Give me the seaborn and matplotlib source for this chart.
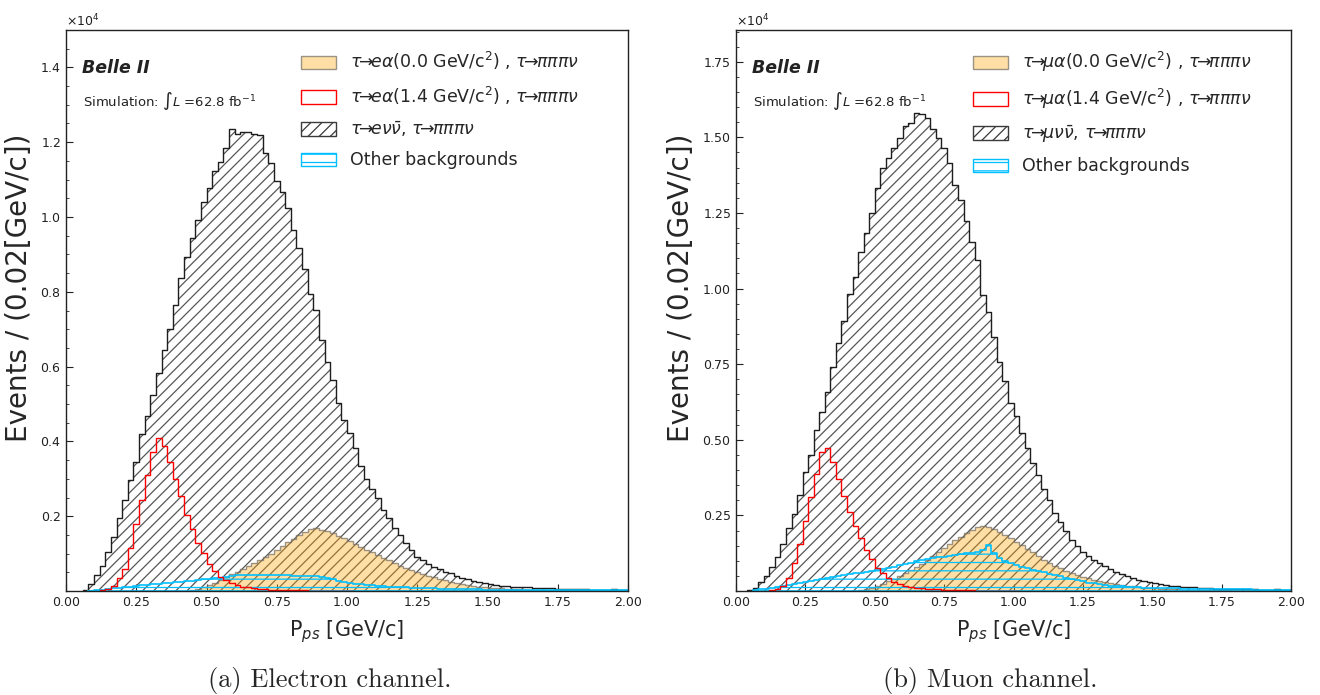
import numpy as np
import matplotlib
matplotlib.use("Agg")
import matplotlib.pyplot as plt
import seaborn as sns
from matplotlib.patches import Patch
from matplotlib.ticker import ScalarFormatter, MultipleLocator, FixedLocator, FormatStrFormatter

# ---------------- data (events per 0.02 GeV/c bin, 0 -> 2 GeV/c) ----------------
BIN_LO, BIN_HI, N_BINS = 0.0, 2.0, 100

# Electron channel
E_SIG00 = [0]*22 + [30, 60, 100, 150, 220, 300, 380, 460, 520, 580, 680, 760, 840, 920, 1000, 1100,
          1190, 1300, 1400, 1500, 1580, 1660, 1690, 1640, 1600, 1540, 1480, 1410, 1340, 1260, 1180,
          1100, 1030, 960, 890, 820, 750, 680, 620, 560, 510, 460, 410, 370, 320, 290, 250, 220, 190,
          160, 140, 120, 100, 90, 80, 70, 60, 50, 45, 40, 35, 30, 28, 25, 22, 20, 18, 16, 15, 13, 12,
          11, 10, 9, 8, 7, 6, 5]
E_SIG14 = [0]*6 + [20, 50, 130, 340, 580, 1140, 1780, 2440, 3100, 3710, 4100, 3880, 3460, 3000, 2540,
          2030, 1650, 1290, 1010, 710, 540, 380, 290, 210, 160, 120, 100, 80, 60, 50, 40, 35, 30, 25,
          20, 18, 15, 12, 10, 8, 7, 6, 5, 4, 3] + [0]*49
E_TAU = [0, 0, 0, 30, 190, 430, 670, 1040, 1450, 1950, 2440, 2970, 3450, 4200, 4670, 5240, 5830, 6450,
         7010, 7650, 8360, 8940, 9450, 9930, 10410, 10770, 11220, 11470, 11840, 12360, 12230, 12280,
         12270, 12230, 12190, 11700, 11450, 10950, 10660, 10230, 9650, 9180, 8600, 7950, 7520, 6720,
         6110, 5630, 5040, 4580, 4220, 3820, 3330, 2990, 2720, 2480, 2170, 1950, 1680, 1500, 1290,
         1100, 920, 820, 720, 650, 580, 520, 470, 410, 360, 310, 270, 250, 220, 190, 160, 140, 130,
         120, 110, 100, 95, 90, 85, 80, 72, 65, 60, 55, 50, 45, 60, 40, 35, 32, 30, 45, 25, 22]
E_OTHER = [0, 0, 0, 0, 10, 20, 40, 50, 70, 90, 100, 120, 130, 150, 160, 180, 190, 210, 220, 240, 250,
           270, 280, 300, 310, 330, 340, 360, 380, 410, 430, 430, 440, 440, 430, 440, 430, 430, 420,
           420, 410, 410, 400, 400, 390, 370, 340, 310, 270, 240, 210, 190, 180, 160, 150, 140, 130,
           120, 110, 100, 95, 90, 85, 80, 75, 70, 65, 60, 55, 50, 48, 46, 44, 42, 40, 38, 36, 35, 34,
           33, 32, 31, 30, 29, 28, 27, 26, 25, 24, 24, 23, 22, 22, 21, 20, 20, 19, 18, 18, 17]

# Muon channel
M_SIG00 = [0]*22 + [30, 60, 100, 160, 240, 320, 400, 480, 580, 680, 800, 900, 1020, 1150, 1280, 1420,
          1550, 1680, 1800, 1920, 2030, 2120, 2160, 2120, 2040, 1960, 1860, 1760, 1630, 1520, 1400,
          1280, 1160, 1040, 940, 840, 750, 670, 600, 530, 470, 420, 370, 330, 290, 250, 220, 190, 170,
          150, 130, 110, 100, 90, 80, 70, 60, 50, 45, 40, 36, 32, 28, 25, 22, 20, 18, 16, 15, 13, 12,
          11, 10, 9, 8, 7, 6, 5]
M_SIG14 = [0]*6 + [20, 50, 180, 420, 920, 1540, 2310, 3120, 3860, 4590, 4740, 4260, 3700, 3150, 2620,
          2160, 1760, 1360, 1060, 770, 580, 420, 310, 230, 180, 140, 110, 90, 70, 60, 50, 40, 35, 30,
          25, 20, 18, 15, 12, 10, 8, 6, 5, 4, 3] + [0]*49
M_TAU = [0, 0, 20, 110, 290, 510, 800, 1130, 1540, 2070, 2540, 3170, 3950, 4500, 5320, 5930, 6590,
         7420, 8190, 8930, 9810, 10390, 11220, 11830, 12510, 13320, 13980, 14310, 14640, 14970, 15390,
         15470, 15800, 15760, 15630, 15280, 14990, 14640, 14140, 13430, 12930, 12240, 11550, 10950,
         9790, 9210, 8410, 7560, 6940, 6210, 5800, 5210, 4720, 4220, 3840, 3370, 3010, 2570, 2290,
         2000, 1700, 1480, 1300, 1150, 1030, 920, 820, 720, 630, 550, 480, 420, 370, 330, 290, 250,
         220, 200, 180, 160, 140, 130, 120, 110, 100, 90, 80, 80, 70, 70, 60, 55, 75, 50, 45, 40, 38,
         55, 32, 30]
M_OTHER = [0, 0, 0, 20, 50, 80, 110, 140, 170, 200, 240, 270, 310, 340, 380, 410, 440, 470, 500, 530,
           550, 580, 610, 640, 670, 700, 740, 770, 810, 850, 890, 930, 980, 1030, 1070, 1090, 1110,
           1140, 1170, 1200, 1220, 1240, 1260, 1280, 1340, 1530, 1260, 1100, 1000, 920, 850, 800, 750,
           700, 660, 620, 570, 530, 480, 440, 400, 360, 320, 280, 250, 220, 200, 180, 160, 150, 140,
           130, 120, 115, 110, 105, 100, 95, 90, 85, 80, 78, 75, 72, 70, 68, 65, 62, 60, 58, 55, 53,
           50, 48, 46, 44, 42, 40, 38, 36]

E_LABELS = [r"$\tau\!\!\rightarrow\!\! e\alpha$(0.0 GeV/c$^{2}$) , $\tau\!\!\rightarrow\!\!\pi\pi\pi\nu$",
            r"$\tau\!\!\rightarrow\!\! e\alpha$(1.4 GeV/c$^{2}$) , $\tau\!\!\rightarrow\!\!\pi\pi\pi\nu$",
            r"$\tau\!\!\rightarrow\!\! e\nu\bar{\nu}$, $\tau\!\!\rightarrow\!\!\pi\pi\pi\nu$",
            "Other backgrounds"]
M_LABELS = [r"$\tau\!\!\rightarrow\!\!\mu\alpha$(0.0 GeV/c$^{2}$) , $\tau\!\!\rightarrow\!\!\pi\pi\pi\nu$",
            r"$\tau\!\!\rightarrow\!\!\mu\alpha$(1.4 GeV/c$^{2}$) , $\tau\!\!\rightarrow\!\!\pi\pi\pi\nu$",
            r"$\tau\!\!\rightarrow\!\!\mu\nu\bar{\nu}$, $\tau\!\!\rightarrow\!\!\pi\pi\pi\nu$",
            "Other backgrounds"]
CAPTIONS = ["(a) Electron channel.", "(b) Muon channel."]
X_TICKS = [0.0, 0.25, 0.5, 0.75, 1.0, 1.25, 1.5, 1.75, 2.0]
E_YTICKS = [2000, 4000, 6000, 8000, 10000, 12000, 14000]
M_YTICKS = [2500, 5000, 7500, 10000, 12500, 15000, 17500]
E_YMAX, M_YMAX = 15000, 18550

# ---------------- style ----------------
sns.set_theme(style="ticks")
plt.rcParams["font.family"] = ["DejaVu Sans"]
plt.rcParams["hatch.linewidth"] = 0.9
plt.rcParams["axes.linewidth"] = 1.0

EDGES = np.linspace(BIN_LO, BIN_HI, N_BINS + 1)
CENTERS = 0.5 * (EDGES[:-1] + EDGES[1:])

ORANGE_FACE = (1.0, 0.647, 0.0, 0.35)
ORANGE_EDGE = (0.45, 0.42, 0.38, 0.7)
TAU_EDGE = "#1e1e1e"
TAU_HATCH = "#575757"
OTHER_COL = "deepskyblue"


def draw(ax, values, **kw):
    vals = np.asarray(values, dtype=float)
    nz = np.nonzero(vals)[0]
    i0, i1 = nz[0], nz[-1] + 1
    sns.histplot(x=list(CENTERS[i0:i1]), weights=list(vals[i0:i1]),
                 bins=[float(e) for e in EDGES[i0:i1 + 1]],
                 element="step", ax=ax, **kw)


fig = plt.figure(figsize=(13.2, 6.95), dpi=100)
ax1 = fig.add_axes([66 / 1320, 1 - 591 / 695, 562 / 1320, 561 / 695])
ax2 = fig.add_axes([736 / 1320, 1 - 591 / 695, 555 / 1320, 561 / 695])

panels = [
    (ax1, E_SIG00, E_SIG14, E_TAU, E_OTHER, E_LABELS, E_YTICKS, E_YMAX, CAPTIONS[0], 0.418, 0.25),
    (ax2, M_SIG00, M_SIG14, M_TAU, M_OTHER, M_LABELS, M_YTICKS, M_YMAX, CAPTIONS[1], 0.427, 0.75),
]

for ax, sig00, sig14, tau, other, labels, yticks, ymax, caption, legx, capx in panels:
    # hatched tau background: gray hatch + dark step outline
    draw(ax, tau, fill=True, color=TAU_HATCH, facecolor="none", edgecolor=TAU_HATCH,
         hatch="///", linewidth=0, zorder=1)
    draw(ax, tau, fill=False, color=TAU_EDGE, linewidth=1.0, zorder=1.5)
    draw(ax, sig00, fill=True, color="orange", alpha=0.35, edgecolor=ORANGE_EDGE,
         linewidth=1.0, zorder=2)
    draw(ax, other, fill=True, color=OTHER_COL, facecolor="none", edgecolor=OTHER_COL,
         hatch="--", linewidth=1.2, zorder=3)
    draw(ax, sig14, fill=False, color="red", linewidth=1.0, zorder=4)

    ax.set_xlim(BIN_LO, BIN_HI)
    ax.set_ylim(0, ymax)
    ax.xaxis.set_major_locator(FixedLocator(X_TICKS))
    ax.yaxis.set_major_locator(FixedLocator(yticks))
    ax.yaxis.set_minor_locator(MultipleLocator(500))
    fmt = ScalarFormatter(useMathText=True)
    fmt.set_powerlimits((0, 0))
    ax.yaxis.set_major_formatter(fmt)
    ax.xaxis.set_major_formatter(FormatStrFormatter("%.2f"))
    ax.tick_params(axis="both", which="major", direction="in", length=5, width=0.8,
                   labelsize=9, colors="#222222")
    ax.tick_params(axis="y", which="minor", direction="in", length=2.5, width=0.6)
    ax.yaxis.get_offset_text().set_fontsize(9)
    for sp in ax.spines.values():
        sp.set_visible(True)
        sp.set_color("#222222")
        sp.set_zorder(5)

    ax.set_xlabel(r"P$_{ps}$ [GeV/c]", fontsize=15, labelpad=7)
    ax.set_ylabel("Events / (0.02[GeV/c])", fontsize=20, labelpad=5)
    ax.yaxis.label.set_y(0.54)

    ax.text(0.028, 0.932, "Belle II", transform=ax.transAxes, fontsize=12.5,
            fontweight="bold", fontstyle="italic", ha="left", va="center", color="#222222")
    ax.text(0.030, 0.873, r"Simulation: $\int L$ =62.8 fb$^{-1}$", transform=ax.transAxes,
            fontsize=9.5, ha="left", va="center", color="#222222")

    handles = [
        Patch(facecolor=ORANGE_FACE, edgecolor=ORANGE_EDGE, linewidth=1.0),
        Patch(facecolor="none", edgecolor="red", linewidth=1.0),
        Patch(facecolor="none", edgecolor="#3a3a3a", hatch="///", linewidth=1.0),
        Patch(facecolor="none", edgecolor=OTHER_COL, hatch="--", linewidth=1.0),
    ]
    ax.legend(handles, labels, loc="upper left", bbox_to_anchor=(legx, 0.964),
              frameon=False, fontsize=12.5, borderpad=0, borderaxespad=0,
              handlelength=2.0, handleheight=0.8, handletextpad=0.8, labelspacing=0.72)

    fig.text(capx, 1 - 680 / 695, caption, ha="center", va="center",
             fontsize=19, family="cmr10")

fig.savefig("out.png", dpi=100, facecolor="white")
